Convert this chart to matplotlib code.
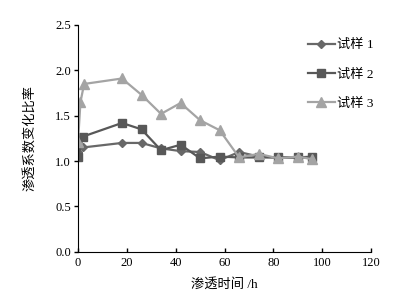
import matplotlib
matplotlib.use("Agg")
import matplotlib.pyplot as plt

plt.rcParams['font.family'] = ['Liberation Serif', 'Noto Sans CJK SC']
plt.rcParams['font.size'] = 9

# data
x1 = [0, 2, 18, 26, 34, 42, 50, 58, 66, 74, 82, 90, 96]
y1 = [1.10, 1.15, 1.20, 1.20, 1.14, 1.11, 1.10, 1.01, 1.10, 1.05, 1.04, 1.04, 1.05]

x2 = [0, 2, 18, 26, 34, 42, 50, 58, 66, 74, 82, 90, 96]
y2 = [1.04, 1.27, 1.42, 1.35, 1.12, 1.18, 1.03, 1.05, 1.04, 1.04, 1.04, 1.04, 1.04]

x3 = [0, 1, 2.5, 18, 26, 34, 42, 50, 58, 66, 74, 82, 90, 96]
y3 = [1.21, 1.65, 1.85, 1.91, 1.73, 1.52, 1.64, 1.45, 1.34, 1.04, 1.08, 1.03, 1.05, 1.02]

labels = ['试样 1', '试样 2', '试样 3']

fig = plt.figure(figsize=(3.96, 2.97), dpi=100)
ax = fig.add_axes([0.197, 0.152, 0.740, 0.764])

ax.plot(x1, y1, color='#686868', lw=1.6, marker='D', ms=4.5, label=labels[0])
ax.plot(x2, y2, color='#585858', lw=1.6, marker='s', ms=6, label=labels[1])
ax.plot(x3, y3, color='#a4a4a4', lw=1.6, marker='^', ms=6.5, label=labels[2])

ax.set_xlim(0, 120)
ax.set_ylim(0, 2.5)
ax.set_xticks(range(0, 121, 20))
ax.set_yticks([0.0, 0.5, 1.0, 1.5, 2.0, 2.5])
ax.set_yticklabels(['0.0', '0.5', '1.0', '1.5', '2.0', '2.5'])
ax.spines['top'].set_visible(False)
ax.spines['right'].set_visible(False)
ax.tick_params(axis='y', direction='out', length=3, width=1, pad=2)
ax.tick_params(axis='x', direction='in', length=3, width=1, pad=4)
ax.set_xlabel('渗透时间 /h', fontsize=9.5, labelpad=6)
ax.set_ylabel('渗透系数变化比率', fontsize=9.5, labelpad=14)

ax.legend(loc='upper right', bbox_to_anchor=(1.05, 0.99), frameon=False,
          fontsize=9.5, labelspacing=1.3, handlelength=2.0, handletextpad=0.2)

fig.savefig('out.png', dpi=100)
